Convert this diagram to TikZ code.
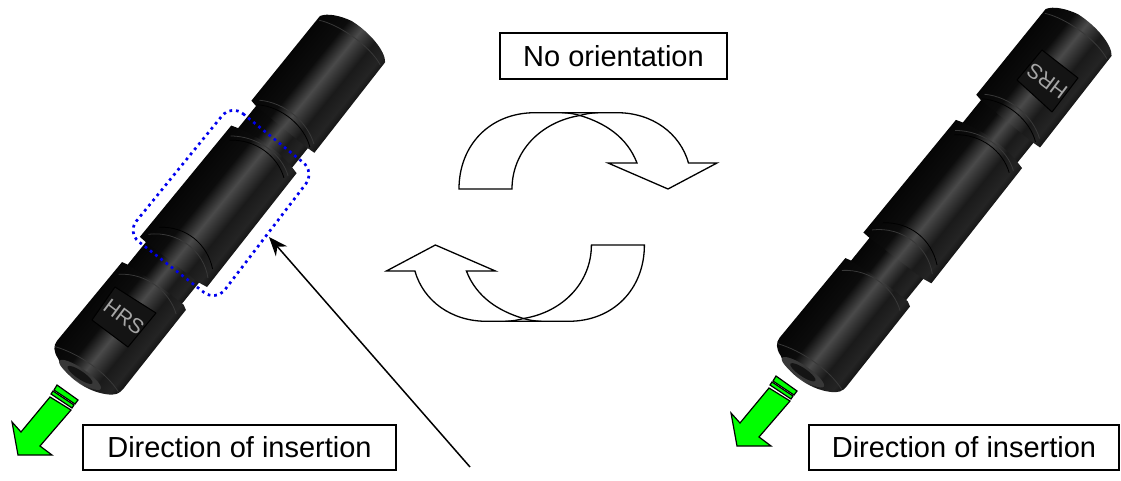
\documentclass[tikz,border=0pt]{standalone}
\usepackage{fontspec}
\setmainfont{Liberation Sans}
\usetikzlibrary{arrows.meta}
\definecolor{gA}{HTML}{050505}
\definecolor{gB}{HTML}{0C0C0C}
\definecolor{gC}{HTML}{4A4A4A}
\definecolor{gD}{HTML}{383838}
\definecolor{gE}{HTML}{1A1A1A}
\definecolor{gF}{HTML}{242424}
\definecolor{gG}{HTML}{141414}
\definecolor{arrowgreen}{HTML}{00FF00}
\definecolor{framedotblue}{HTML}{0000EE}
\pgfdeclareverticalshading{barrel}{100bp}{color(0bp)=(gA);color(25bp)=(gA);color(40bp)=(gB);color(50bp)=(gC);color(54bp)=(gD);color(61bp)=(gE);color(70bp)=(gF);color(75bp)=(gG);color(100bp)=(gG)}
\tikzset{
  labelbox/.style={draw=black,line width=1.3pt,fill=white,inner sep=0pt,font=\fontsize{29}{32}\selectfont,text=black},
  uturn/.style={draw=black,line width=1.3pt,fill=white,line join=miter},
  groove/.style={draw=#1,line width=0.8pt},
  greenshape/.style={draw=black,line width=1.2pt,fill=arrowgreen,line join=miter},
  plate/.style={fill=#1,draw=black,line width=1pt,line join=round},
  logotext/.style={inner sep=0pt,text=#1,font=\fontsize{21}{21}\selectfont},
}
\newcommand{\hrsconnector}[6]{%
  \begin{scope}[transform canvas={cm={#3,#4,#5,#6,(#1pt,-#2pt)}},x=1pt,y=1pt]
    \shade[shading=barrel] (95,7) rectangle (150,74);
    \shade[shading=barrel] (275,7) rectangle (325,74);
    \shade[shading=barrel] (110,1) -- (8,0) .. controls (2,0) and (-3,4) .. (-6,12)
       .. controls (-17,28) and (-17,55) .. (-8,72) .. controls (-4,80) and (0,82) .. (6,82)
       -- (107,81) -- (110,76) -- (112,40) -- (111,6) -- cycle;
    \shade[shading=barrel] (141,-1) -- (140,8) -- (137,74) -- (138,83)
       -- (283,81) .. controls (292,55) and (292,25) .. (285,0) -- cycle;
    \shade[shading=barrel] (317,0) -- (315,8) -- (310,74) -- (310,82)
       -- (425,80) .. controls (434,74) and (441,50) .. (440,28)
       .. controls (438,16) and (433,4) .. (426,0) -- cycle;
    % grooves
    \draw[groove=black] (317,7) .. controls (330,28) and (326,58) .. (312,75);
    \draw[groove=gD] (322,6) .. controls (335,28) and (331,58) .. (317,76);
    \draw[groove=gD] (276,6) .. controls (292,28) and (290,58) .. (276,76);
    \draw[groove=black] (272,8) .. controls (288,28) and (286,56) .. (272,74);
    \draw[groove=gD] (148,4) .. controls (168,25) and (166,58) .. (146,78);
    \draw[groove=black] (160,8) .. controls (176,28) and (174,56) .. (156,76);
    \draw[groove=gD] (98,6) .. controls (116,28) and (112,58) .. (98,76);
    \draw[groove=gD] (2,2) .. controls (10,25) and (10,58) .. (1,80);
    \draw[groove=gD] (422,2) .. controls (430,20) and (430,58) .. (420,78);
    % front face
    \fill[gD] (-7,39.5) ellipse [x radius=6.5, y radius=25];
    \fill[gG] (-7,39.5) ellipse [x radius=4, y radius=15];
  \end{scope}%
}
\newcommand{\uturnarrow}{%
  \draw[uturn] (459,189) .. controls (459,145) and (490,112.7) .. (535,112.7)
     -- (617,112.7) .. controls (652,112.7) and (680,133) .. (688.5,163)
     -- (717,163) -- (668,189) -- (608,163) -- (637,163)
     .. controls (627,137) and (605,123) .. (580,115.5)
     .. controls (540,122) and (512,152) .. (512,189) -- cycle;
  \draw[line width=1.3pt] (580,115.5) .. controls (575,114) and (570,113) .. (562,112.7);
  \draw[line width=1.3pt] (580,115.5) .. controls (585,114) and (590,113) .. (598,112.7);
}
\newcommand{\greenarrow}[2]{%
  \begin{scope}[shift={(#1,#2)}]
    \draw[greenshape] (50,397) -- (21,432) -- (12,422) -- (18,455) -- (52,455) -- (40,446) -- (71,410) -- cycle;
    \draw[line width=1.2pt,fill=arrowgreen] (53,391) -- (74,405) -- (72,408) -- (51,394) -- cycle;
    \draw[line width=1.2pt,fill=arrowgreen] (57,385) -- (78,400) -- (75,404) -- (54,390) -- cycle;
  \end{scope}%
}
\begin{document}
\begin{tikzpicture}[x=1pt,y=-1pt]
  \useasboundingbox (0,0) rectangle (1121,481);
  \hrsconnector{52}{347}{0.629}{0.777}{0.822}{-0.569}
  \hrsconnector{774.5}{344}{0.6365}{0.7863}{0.8319}{-0.5758}
  % logo plates
  \draw[plate=gG] (115,287) -- (156,313) -- (128,347) -- (92,320) -- cycle;
  \node[logotext=gray!70,rotate=-37] (logoL) at (124,317) {HRS};
  \draw[plate=gG] (1042,50) -- (1078,78) -- (1052,112) -- (1017,80) -- cycle;
  \node[logotext=gray!70,rotate=143] (logoR) at (1047,81) {HRS};
  % dotted frame
  \draw[framedotblue,line width=2.7pt,dash pattern=on 2.7pt off 3.9pt,rounded corners=15pt]
    (231.4,104.3) -- (314.9,172) -- (215.8,301.6) -- (127,232.6) -- cycle;
  % rotation arrows
  \uturnarrow
  \begin{scope}[rotate around={180:(551.7,217)}]
    \uturnarrow
  \end{scope}
  % green arrows
  \greenarrow{0}{0}
  \greenarrow{719}{-9}
  % labels
  \node[labelbox,minimum width=313pt,minimum height=45pt] (dirL) at (239.5,447.5) {Direction of insertion};
  \node[labelbox,minimum width=310pt,minimum height=45pt] (dirR) at (964,447.5) {Direction of insertion};
  \node[labelbox,minimum width=227pt,minimum height=46pt] (noorient) at (613.5,56) {No orientation};
  % leader
  \coordinate (leaderfoot) at (470,467);
  \coordinate (leadertip) at (269,237);
  \draw[line width=1.5pt,-{Stealth[length=19pt,width=15pt]}] (leaderfoot) -- (leadertip);
\end{tikzpicture}
\end{document}
